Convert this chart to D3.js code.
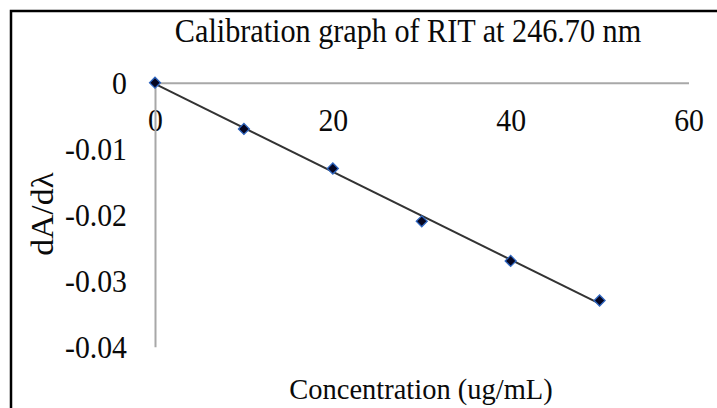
<!DOCTYPE html>
<html><head><meta charset="utf-8">
<script src="https://cdn.jsdelivr.net/npm/d3@7"></script>
<style>body{margin:0;background:#fff}svg{display:block}text{font-family:"Liberation Serif","Times New Roman",serif;fill:#0a0a0a}</style>
</head><body><svg id="c" width="717" height="408"></svg>
<script>
const concentration = [0, 10, 20, 30, 40, 50];
const dAdl = [0, -0.007, -0.013, -0.021, -0.027, -0.033];
const xTicks = [0, 20, 40, 60];
const yTicks = [0, -0.01, -0.02, -0.03, -0.04];
const titleText = "Calibration graph of RIT at 246.70 nm";
const xTitle = "Concentration (ug/mL)";
const yTitle = "dA/d\u03bb";

const svg = d3.select("#c");
const x = d3.scaleLinear().domain([0, 60]).range([155, 688.5]);
const y = d3.scaleLinear().domain([-0.04, 0]).range([346.7, 82.7]);

svg.append("rect").attr("x", 11).attr("y", 11).attr("width", 800).attr("height", 500)
  .attr("fill", "#fff").attr("stroke", "#000").attr("stroke-width", 2.5);

const fs = 32, sx = 0.93;

// X axis
const gx = svg.append("g").attr("transform", `translate(0,${y(0)})`)
  .call(d3.axisBottom(x).tickValues(xTicks).tickSize(0).tickFormat(d3.format("d")));
gx.select(".domain").attr("stroke", "#a8a8a8").attr("stroke-width", 2);
gx.selectAll(".tick text").attr("y", 0).attr("dy", 0)
  .attr("font-size", fs).attr("font-family", null)
  .attr("transform", `translate(0,48) scale(${sx},1)`);

// Y axis
const gy = svg.append("g").attr("transform", `translate(${x(0)},0)`)
  .call(d3.axisLeft(y).tickValues(yTicks).tickSize(0).tickFormat(d => d === 0 ? "0" : d.toFixed(2)));
gy.select(".domain").attr("stroke", "#a8a8a8").attr("stroke-width", 2);
gy.selectAll(".tick text").attr("x", 0).attr("dy", 0)
  .attr("font-size", fs).attr("font-family", null)
  .attr("transform", `translate(-28,11) scale(${sx},1)`);

// Trendline (least squares)
const n = concentration.length;
const mx = d3.mean(concentration), my = d3.mean(dAdl);
let sxy = 0, sxx = 0;
for (let i = 0; i < n; i++) { sxy += (concentration[i]-mx)*(dAdl[i]-my); sxx += (concentration[i]-mx)**2; }
const slope = sxy / sxx, icpt = my - slope * mx;
const x0 = d3.min(concentration), x1 = d3.max(concentration);
svg.append("line")
  .attr("x1", x(x0)).attr("y1", y(Math.min(0, icpt + slope * x0)))
  .attr("x2", x(x1)).attr("y2", y(icpt + slope * x1))
  .attr("stroke", "#333").attr("stroke-width", 2);

// Markers
svg.selectAll("path.pt").data(concentration).join("path").attr("class", "pt")
  .attr("d", d3.symbol().type(d3.symbolSquare).size(60))
  .attr("transform", (d, i) => `translate(${x(d)},${y(dAdl[i])}) rotate(45)`)
  .attr("fill", "#050520").attr("stroke", "#2f66c0").attr("stroke-width", 1.3);

// Titles
svg.append("text").attr("transform", `translate(408,42) scale(0.915,1)`)
  .attr("text-anchor", "middle").attr("font-size", 33).text(titleText);
svg.append("text").attr("transform", `translate(421,399) scale(0.95,1)`)
  .attr("text-anchor", "middle").attr("font-size", 30).text(xTitle);
svg.append("text").attr("transform", `translate(53,214) rotate(-90) scale(1.05,1)`)
  .attr("text-anchor", "middle").attr("font-size", 32).text(yTitle);
</script></body></html>
